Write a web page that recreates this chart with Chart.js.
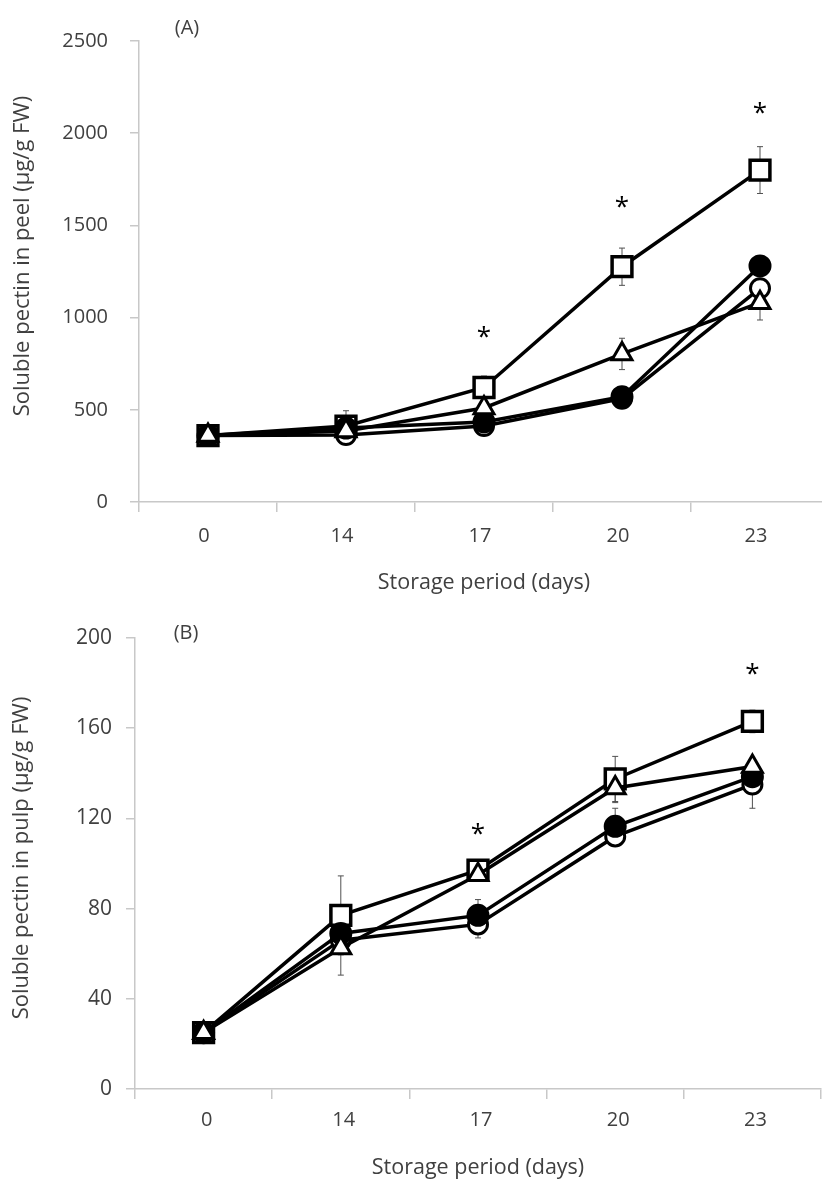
<!DOCTYPE html>
<html>
<head>
<meta charset="utf-8">
<script src="https://cdn.jsdelivr.net/npm/chart.js@4.4.1/dist/chart.umd.min.js"></script>
<style>
  html, body { margin: 0; padding: 0; overflow: hidden; background: #ffffff; width: 822px; height: 1192px; }
  #wrapA { position: absolute; left: 0; top: 0; width: 822px; height: 600px; overflow: hidden; }
  #wrapB { position: absolute; left: 0; top: 600px; width: 822px; height: 592px; overflow: hidden; }
  canvas { display: block; }
</style>
</head>
<body>
<div id="wrapA"><canvas id="peel" width="840" height="600"></canvas></div>
<div id="wrapB"><canvas id="pulp" width="822" height="592"></canvas></div>
<script>
// Storage days (categories)
const days = ['0', '14', '17', '20', '23'];

// (A) soluble pectin in peel, µg/g FW
const peelSquare   = [360, 412, 621, 1276, 1800];
const peelFilled   = [360, 401, 434, 571, 1280];
const peelOpen     = [360, 363, 412, 560, 1159];
const peelTriangle = [360, 385, 510, 803, 1081];
// standard errors (peel)
const peelSquareErr   = [0, 83, 62, 101, 127];
const peelFilledErr   = [0, 0, 0, 0, 0];
const peelOpenErr     = [0, 0, 0, 0, 0];
const peelTriangleErr = [0, 0, 0, 85, 94];
// significance marks (peel), placed at these values
const peelSig = [null, null, 917, 1622, 2131];

// (B) soluble pectin in pulp, µg/g FW
const pulpSquare   = [25, 77, 97, 137.5, 163];
const pulpFilled   = [25, 69, 77, 116.5, 138.5];
const pulpOpen     = [25, 66, 73, 112, 135];
const pulpTriangle = [25, 62.5, 95, 133.5, 143];
// standard errors (pulp)
const pulpSquareErr   = [0, 17.5, 0, 10, 5];
const pulpFilledErr   = [0, 0, 7, 8, 0];
const pulpOpenErr     = [0, 0, 6, 0, 10.5];
const pulpTriangleErr = [0, 12, 0, 6.5, 0];
// significance marks (pulp)
const pulpSig = [null, null, 115, null, 186];

// y-axis ticks
const peelTicks = { min: 0, max: 2500, step: 500 };
const pulpTicks = { min: 0, max: 200, step: 40 };

const FONT = "'Open Sans', 'Noto Sans', sans-serif";
const TEXT = '#404040';
const AXIS = '#c8c8c8';

// marker styles, listed top-most first (dataset 0 is painted last)
function seriesSet(tri, filled, open, square, errs) {
  return [
    { data: tri, err: errs[0], pointStyle: 'triangle', pointRadius: 11.5, pointBorderWidth: 3, pointBackgroundColor: '#ffffff' },
    { data: filled, err: errs[1], pointStyle: 'circle', pointRadius: 10.5, pointBorderWidth: 2, pointBackgroundColor: '#000000' },
    { data: open, err: errs[2], pointStyle: 'circle', pointRadius: 9.5, pointBorderWidth: 3, pointBackgroundColor: '#ffffff' },
    { data: square, err: errs[3], pointStyle: 'rect', pointRadius: 14, pointBorderWidth: 3.5, pointBackgroundColor: '#ffffff' }
  ].map(d => Object.assign({
    borderColor: '#000000', borderWidth: 3.5, pointBorderColor: '#000000',
    tension: 0, fill: false, pointHoverRadius: 0, clip: false
  }, d));
}

// error bars drawn beneath the lines and markers
const errorBars = {
  id: 'errorBars',
  beforeDatasetsDraw(chart) {
    const ctx = chart.ctx, y = chart.scales.y;
    ctx.save();
    ctx.strokeStyle = '#505050';
    ctx.lineWidth = 1;
    chart.data.datasets.forEach((ds, di) => {
      const meta = chart.getDatasetMeta(di);
      ds.data.forEach((v, i) => {
        const e = ds.err[i];
        if (!e) return;
        const x = meta.data[i].x;
        const t = y.getPixelForValue(v + e), b = y.getPixelForValue(v - e);
        ctx.beginPath();
        ctx.moveTo(x, t); ctx.lineTo(x, b);
        ctx.moveTo(x - 3, t); ctx.lineTo(x + 3, t);
        ctx.moveTo(x - 3, b); ctx.lineTo(x + 3, b);
        ctx.stroke();
      });
    });
    ctx.restore();
  }
};

// asterisks, panel letter and rotated y title
const annotations = {
  id: 'annotations',
  afterDraw(chart, args, opts) {
    const ctx = chart.ctx, x = chart.scales.x, y = chart.scales.y;
    ctx.save();
    ctx.fillStyle = '#000000';
    ctx.font = `26px ${FONT}`;
    ctx.textAlign = 'center';
    ctx.textBaseline = 'middle';
    opts.sig.forEach((v, i) => {
      if (v == null) return;
      ctx.fillText('*', x.getPixelForValue(i), y.getPixelForValue(v) + 5);
    });
    ctx.fillStyle = TEXT;
    ctx.font = `20px ${FONT}`;
    ctx.fillText(opts.panel, opts.panelX, opts.panelY);
    ctx.font = `22px ${FONT}`;
    ctx.translate(opts.titleX, opts.titleY);
    ctx.rotate(-Math.PI / 2);
    ctx.fillText(opts.yTitle, 0, 0);
    ctx.restore();
  }
};

function makeChart(id, sets, ticks, o) {
  return new Chart(document.getElementById(id), {
    type: 'line',
    data: { labels: days, datasets: sets },
    plugins: [errorBars, annotations],
    options: {
      responsive: false,
      animation: false,
      events: [],
      layout: { autoPadding: false, padding: { top: o.padTop, right: o.padRight, left: 0, bottom: 0 } },
      plugins: {
        legend: { display: false },
        tooltip: { enabled: false },
        annotations: { sig: o.sig, panel: o.panel, panelX: o.panelX, panelY: o.panelY,
                       yTitle: o.yTitle, titleX: o.titleX, titleY: o.titleY }
      },
      scales: {
        x: {
          type: 'category',
          offset: true,
          afterFit: s => { s.height = o.xHeight; },
          grid: { offset: true, drawOnChartArea: false, drawTicks: true, tickLength: 10, color: AXIS, lineWidth: 1.5 },
          border: { display: true, color: AXIS, width: 1.5 },
          ticks: { color: TEXT, font: { family: FONT, size: 20 }, padding: o.xPad, labelOffset: o.labelOffset, maxRotation: 0 },
          title: { display: true, text: 'Storage period (days)', color: TEXT,
                   font: { family: FONT, size: 21.5 }, padding: { top: 0, bottom: o.titlePad } }
        },
        y: {
          min: ticks.min, max: ticks.max,
          afterFit: s => { s.width = o.yWidth; },
          grid: { drawOnChartArea: false, drawTicks: true, tickLength: 9, color: AXIS, lineWidth: 1.5 },
          border: { display: true, color: AXIS, width: 1.5 },
          ticks: { stepSize: ticks.step, color: TEXT, font: { family: FONT, size: o.yFont }, padding: o.yPad,
                   callback: v => String(v) }
        }
      }
    }
  });
}

makeChart('peel',
  seriesSet(peelTriangle, peelFilled, peelOpen, peelSquare,
            [peelTriangleErr, peelFilledErr, peelOpenErr, peelSquareErr]),
  peelTicks,
  { padTop: 41, padRight: 11, xHeight: 98, yWidth: 139, xPad: 12, labelOffset: -4, titlePad: 4.5,
    yPad: 22, yFont: 20, sig: peelSig, panel: '(A)', panelX: 187, panelY: 28,
    yTitle: 'Soluble pectin in peel (µg/g FW)', titleX: 23, titleY: 256 });

makeChart('pulp',
  seriesSet(pulpTriangle, pulpFilled, pulpOpen, pulpSquare,
            [pulpTriangleErr, pulpFilledErr, pulpOpenErr, pulpSquareErr]),
  pulpTicks,
  { padTop: 38, padRight: 1, xHeight: 103, yWidth: 135, xPad: 9, labelOffset: 3, titlePad: 11.5,
    yPad: 14, yFont: 21, sig: pulpSig, panel: '(B)', panelX: 186, panelY: 33,
    yTitle: 'Soluble pectin in pulp (µg/g FW)', titleX: 22, titleY: 258 });
</script>
</body>
</html>
